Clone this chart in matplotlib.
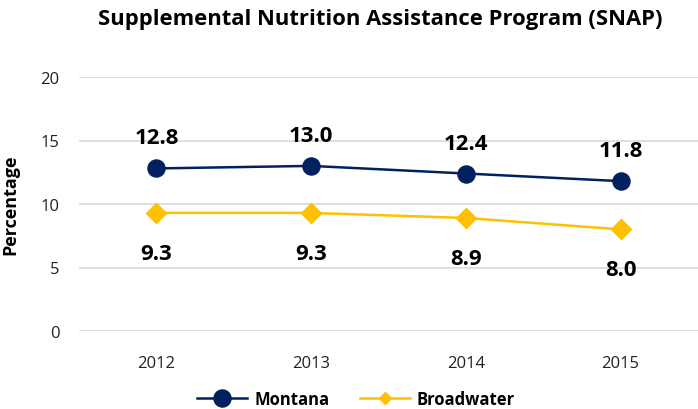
import matplotlib
matplotlib.use("Agg")
import matplotlib.pyplot as plt
from matplotlib.lines import Line2D

years = ["2012", "2013", "2014", "2015"]
montana = [12.8, 13.0, 12.4, 11.8]
broadwater = [9.3, 9.3, 8.9, 8.0]
yticks = [0, 5, 10, 15, 20]

plt.rcParams['font.family'] = ['Open Sans', 'DejaVu Sans']

fig = plt.figure(figsize=(6.98, 4.10), dpi=100)
W, H = 698, 410
left, right = 79, 698
bottom, top = 332, 78
ax = fig.add_axes([left / W, 1 - bottom / H, (right - left) / W, (bottom - top) / H])

x = list(range(len(years)))
navy = "#002060"
gold = "#FFC000"
ax.plot(x, montana, color=navy, lw=1.8, marker="o", ms=12.3, zorder=3)
ax.plot(x, broadwater, color=gold, lw=1.8, marker="D", ms=9.7, zorder=3)

for xi, v in zip(x, montana):
    ax.annotate(f"{v:.1f}", (xi, v), xytext=(0, 18), textcoords="offset points",
                ha="center", va="baseline", fontsize=16, fontweight="bold", color="black")
for xi, v in zip(x, broadwater):
    ax.annotate(f"{v:.1f}", (xi, v), xytext=(0, -33), textcoords="offset points",
                ha="center", va="baseline", fontsize=16, fontweight="bold", color="black")

ax.set_xlim(-0.5, len(years) - 0.5)
ax.set_ylim(0, 20)
ax.set_yticks(yticks)
ax.set_yticklabels([str(t) for t in yticks])
ax.set_xticks(x)
ax.set_xticklabels(years)
ax.grid(axis="y", color="#D9D9D9", lw=1.2)
ax.set_axisbelow(True)
for s in ax.spines.values():
    s.set_visible(False)
ax.tick_params(axis="both", length=0, labelsize=12, colors="#222222")
ax.tick_params(axis="x", pad=17)
ax.tick_params(axis="y", pad=14)

ax.set_ylabel("Percentage", fontsize=13, fontweight="bold")
ax.yaxis.set_label_coords(-(left - 19) / (right - left), 0.5)
fig.text(380 / W, 1 - 20 / H, "Supplemental Nutrition Assistance Program (SNAP)",
         ha="center", va="center", fontsize=15.8, fontweight="bold")

handles = [
    Line2D([], [], color=navy, lw=1.8, marker="o", ms=12.3),
    Line2D([], [], color=gold, lw=1.8, marker="D", ms=6),
]
fig.legend(handles, ["Montana", "Broadwater"], loc="center",
           bbox_to_anchor=(356 / W, 1 - 400 / H), ncol=2, frameon=False,
           prop={"size": 12, "weight": "bold"}, handlelength=3.0,
           handletextpad=0.45, columnspacing=1.8)

fig.savefig("out.png", dpi=100)
